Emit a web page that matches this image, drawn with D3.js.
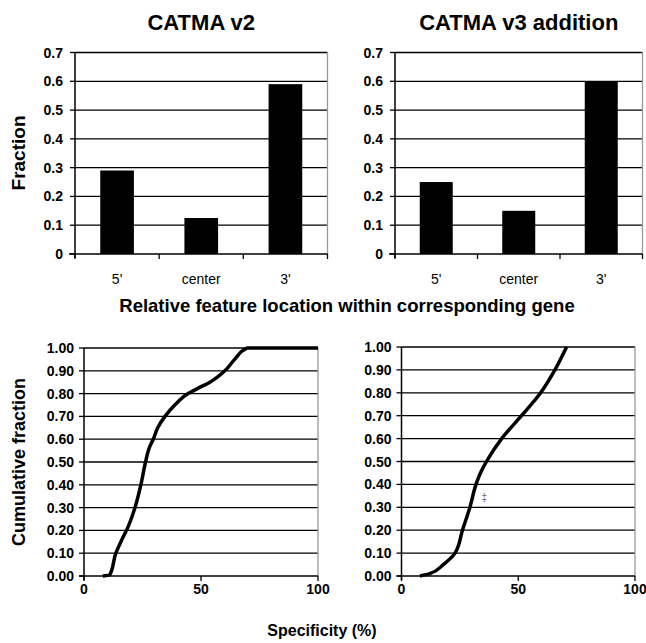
<!DOCTYPE html>
<html>
<head>
<meta charset="utf-8">
<script src="https://cdn.jsdelivr.net/npm/d3@7"></script>
<style>
  body { margin: 0; background: #fff; }
  svg text { font-family: Arial, "Liberation Sans", sans-serif; fill: #000; }
</style>
</head>
<body>
<div id="chart"></div>
<script>
// bar charts: fraction of features per location
const categories = ["5'", "center", "3'"];
const v2Fractions = [0.29, 0.125, 0.59];
const v3Fractions = [0.25, 0.15, 0.60];
const fractionTicks = [0, 0.1, 0.2, 0.3, 0.4, 0.5, 0.6, 0.7];

// cumulative curves: [specificity %, cumulative fraction]
const v2Cumulative = [[8, 0], [11, 0.005], [13.6, 0.10], [16.2, 0.16], [18.6, 0.21],
  [21.8, 0.30], [24.3, 0.40], [26.3, 0.50], [27.8, 0.56], [29.6, 0.60], [31.5, 0.65],
  [34.6, 0.70], [38.8, 0.75], [44.5, 0.80], [49, 0.825], [53.8, 0.85], [60.2, 0.90],
  [64.4, 0.95], [69.7, 1.0], [100, 1.0]];
const v3Cumulative = [[7.9, 0], [12.1, 0.01], [17.9, 0.05], [22.9, 0.10], [26.1, 0.20],
  [29.3, 0.30], [31.9, 0.40], [33.8, 0.45], [36.4, 0.50], [42.9, 0.60], [51.4, 0.70],
  [59.6, 0.80], [65.7, 0.90], [70.7, 1.0]];
const cumulativeTicks = [0, 0.1, 0.2, 0.3, 0.4, 0.5, 0.6, 0.7, 0.8, 0.9, 1.0];
const specificityTicks = [0, 50, 100];
const markerPoint = [34.3, 0.34];

const titles = ["CATMA v2", "CATMA v3 addition"];

const width = 646, height = 643;
const svg = d3.select("#chart").append("svg")
    .attr("width", width)
    .attr("height", height);

// common plot frame: gridlines + gray border on right
function drawGrid(g, x0, x1, y, ticks) {
    g.selectAll("line.grid")
        .data(ticks.filter(t => t > 0))
        .enter().append("line")
        .attr("class", "grid")
        .attr("x1", x0).attr("x2", x1)
        .attr("y1", d => y(d)).attr("y2", d => y(d))
        .attr("stroke", "#000")
        .attr("stroke-width", 1.3);
    g.append("line")
        .attr("x1", x1).attr("x2", x1)
        .attr("y1", y.range()[1]).attr("y2", y.range()[0])
        .attr("stroke", "#999")
        .attr("stroke-width", 1.3);
}

function yAxisDraw(g, x0, y, ticks, fmt, labelX) {
    g.append("line")
        .attr("x1", x0).attr("x2", x0)
        .attr("y1", y.range()[1]).attr("y2", y.range()[0] + 4)
        .attr("stroke", "#000").attr("stroke-width", 1.5);
    ticks.forEach(t => {
        g.append("line")
            .attr("x1", x0 - 5).attr("x2", x0)
            .attr("y1", y(t)).attr("y2", y(t))
            .attr("stroke", "#000").attr("stroke-width", 1.3);
        g.append("text")
            .attr("x", labelX).attr("y", y(t) + 5)
            .attr("text-anchor", "end")
            .attr("font-size", 14)
            .attr("font-weight", "bold")
            .text(fmt(t));
    });
}

// ---------- top row: bar charts ----------
const barPanels = [
    { data: v2Fractions, x0: 75, x1: 327.5, title: titles[0] },
    { data: v3Fractions, x0: 395, x1: 642.5, title: titles[1] }
];
barPanels.forEach(p => {
    const g = svg.append("g");
    const y = d3.scaleLinear().domain([0, 0.7]).range([254, 52.5]);
    const x = d3.scaleBand().domain(categories).range([p.x0, p.x1])
        .paddingInner(0.6).paddingOuter(0.3);

    drawGrid(g, p.x0, p.x1, y, fractionTicks);

    g.selectAll("rect")
        .data(categories.map((c, i) => ({ c, v: p.data[i] })))
        .enter().append("rect")
        .attr("x", d => x(d.c))
        .attr("y", d => y(d.v))
        .attr("width", x.bandwidth())
        .attr("height", d => y(0) - y(d.v))
        .attr("fill", "#000");

    yAxisDraw(g, p.x0, y, fractionTicks, d => d === 0 ? "0" : d3.format(".1f")(d), p.x0 - 12);

    // x axis with category separators
    g.append("line")
        .attr("x1", p.x0 - 6).attr("x2", p.x1)
        .attr("y1", y(0)).attr("y2", y(0))
        .attr("stroke", "#000").attr("stroke-width", 1.5);
    d3.range(4).forEach(i => {
        const tx = p.x0 + i * (p.x1 - p.x0) / 3;
        g.append("line")
            .attr("x1", tx).attr("x2", tx)
            .attr("y1", y(0)).attr("y2", y(0) + 5)
            .attr("stroke", "#000").attr("stroke-width", 1.3);
    });
    categories.forEach(c => {
        g.append("text")
            .attr("x", x(c) + x.bandwidth() / 2)
            .attr("y", 284)
            .attr("text-anchor", "middle")
            .attr("font-size", 14)
            .text(c);
    });

    svg.append("text")
        .attr("x", (p.x0 + p.x1) / 2)
        .attr("y", 30)
        .attr("text-anchor", "middle")
        .attr("font-size", 22)
        .attr("font-weight", "bold")
        .text(p.title);
});

svg.append("text")
    .attr("transform", "translate(25,153) rotate(-90)")
    .attr("text-anchor", "middle")
    .attr("font-size", 19)
    .attr("font-weight", "bold")
    .text("Fraction");

svg.append("text")
    .attr("x", 347).attr("y", 312)
    .attr("text-anchor", "middle")
    .attr("font-size", 18.5)
    .attr("font-weight", "bold")
    .text("Relative feature location within corresponding gene");

// ---------- bottom row: cumulative curves ----------
const curvePanels = [
    { data: v2Cumulative, x0: 84, x1: 318, yTop: 348 },
    { data: v3Cumulative, x0: 401.5, x1: 635, yTop: 347, marker: markerPoint }
];
curvePanels.forEach(p => {
    const g = svg.append("g");
    const y = d3.scaleLinear().domain([0, 1]).range([576, p.yTop]);
    const x = d3.scaleLinear().domain([0, 100]).range([p.x0, p.x1]);

    drawGrid(g, p.x0, p.x1, y, cumulativeTicks);
    yAxisDraw(g, p.x0, y, cumulativeTicks, d3.format(".2f"), p.x0 - 10);

    g.append("line")
        .attr("x1", p.x0 - 5).attr("x2", p.x1)
        .attr("y1", y(0)).attr("y2", y(0))
        .attr("stroke", "#000").attr("stroke-width", 1.5);
    specificityTicks.forEach(t => {
        g.append("line")
            .attr("x1", x(t)).attr("x2", x(t))
            .attr("y1", y(0)).attr("y2", y(0) + 5)
            .attr("stroke", "#000").attr("stroke-width", 1.3);
        g.append("text")
            .attr("x", x(t)).attr("y", 594)
            .attr("text-anchor", "middle")
            .attr("font-size", 14)
            .attr("font-weight", "bold")
            .text(t);
    });

    const line = d3.line()
        .x(d => x(d[0]))
        .y(d => y(d[1]))
        .curve(d3.curveMonotoneY);
    g.append("path")
        .datum(p.data)
        .attr("d", line)
        .attr("fill", "none")
        .attr("stroke", "#000")
        .attr("stroke-width", 3.5)
        .attr("stroke-linejoin", "round");

    if (p.marker) {
        g.append("text")
            .attr("x", x(p.marker[0])).attr("y", y(p.marker[1]) + 3)
            .attr("font-size", 10)
            .style("fill", "#666")
            .text("‡");
    }
});

svg.append("text")
    .attr("transform", "translate(25,462) rotate(-90)")
    .attr("text-anchor", "middle")
    .attr("font-size", 18)
    .attr("font-weight", "bold")
    .text("Cumulative fraction");

svg.append("text")
    .attr("x", 322).attr("y", 636)
    .attr("text-anchor", "middle")
    .attr("font-size", 16)
    .attr("font-weight", "bold")
    .text("Specificity (%)");
</script>
</body>
</html>
